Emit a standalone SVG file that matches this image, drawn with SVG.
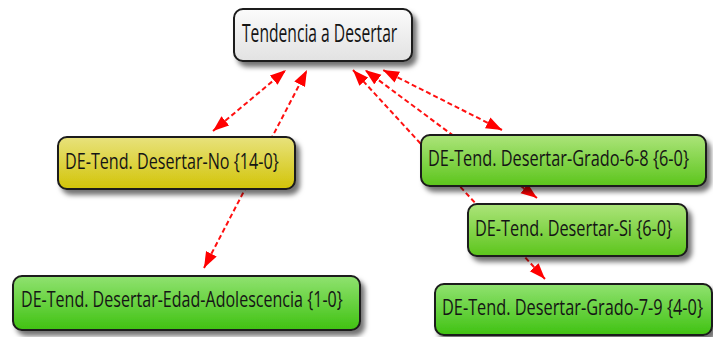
<svg xmlns="http://www.w3.org/2000/svg" width="713" height="337" viewBox="0 0 713 337">
<defs>
<style>
.edge{fill:none;stroke:#ff1010;stroke-width:2;stroke-dasharray:5,3;marker-start:url(#ah);marker-end:url(#ah)}
.box{stroke:#1a1a1a;stroke-width:2;filter:url(#sh)}
.t{font-family:"Open Sans","Liberation Sans",sans-serif;font-size:22px;fill:#151515}
.tt{font-size:25px}
</style>
<marker id="ah" markerUnits="userSpaceOnUse" markerWidth="17" markerHeight="13" refX="16" refY="6" orient="auto-start-reverse" viewBox="0 0 17 13">
<path d="M0,0 L16,6 L0,12 z" fill="#ff0000"/>
</marker>
<filter id="sh" x="-10%" y="-20%" width="130%" height="160%">
<feDropShadow dx="4" dy="5" stdDeviation="2.5" flood-color="#000" flood-opacity="0.55"/>
</filter>
<linearGradient id="gGray" x1="0" y1="0" x2="0" y2="1">
<stop offset="0" stop-color="#fbfbfb"/>
<stop offset="1" stop-color="#e2e2e2"/>
</linearGradient>
<linearGradient id="gYel" x1="0" y1="0" x2="0" y2="1">
<stop offset="0" stop-color="#e8e27c"/>
<stop offset="1" stop-color="#d2c408"/>
</linearGradient>
<linearGradient id="gGrn" x1="0" y1="0" x2="0" y2="1">
<stop offset="0" stop-color="#ace47a"/>
<stop offset="1" stop-color="#5cc51c"/>
</linearGradient>
<linearGradient id="gGrn2" x1="0" y1="0" x2="0" y2="1">
<stop offset="0" stop-color="#90e270"/>
<stop offset="1" stop-color="#40c212"/>
</linearGradient>
</defs>
<rect width="713" height="337" fill="#ffffff"/>
<g id="connectors">
<line class="edge" x1="213" y1="131" x2="286" y2="70"/>
<line class="edge" x1="204" y1="268" x2="307" y2="70"/>
<line class="edge" x1="545" y1="279" x2="353" y2="70"/>
<line class="edge" x1="537" y1="198" x2="365" y2="70"/>
<line class="edge" x1="502" y1="130" x2="383" y2="70"/>
</g>
<g id="node-tendencia">
<rect class="box" x="234" y="9" width="178" height="52" rx="9" fill="url(#gGray)"/>
<text class="t tt" transform="translate(242,42) scale(0.75,1)" textLength="207" lengthAdjust="spacingAndGlyphs">Tendencia a Desertar</text>
</g>
<g id="node-no">
<rect class="box" x="58" y="137" width="237" height="52" rx="9" fill="url(#gYel)"/>
<text class="t" transform="translate(65,169) scale(0.75,1)" textLength="285" lengthAdjust="spacingAndGlyphs">DE-Tend. Desertar-No {14-0}</text>
</g>
<g id="node-grado68">
<rect class="box" x="421" y="135" width="285" height="51" rx="9" fill="url(#gGrn)"/>
<text class="t" transform="translate(428,166) scale(0.75,1)" textLength="348" lengthAdjust="spacingAndGlyphs">DE-Tend. Desertar-Grado-6-8 {6-0}</text>
</g>
<g id="node-si">
<rect class="box" x="468" y="204" width="219" height="52" rx="9" fill="url(#gGrn)"/>
<text class="t" transform="translate(475,236) scale(0.75,1)" textLength="263" lengthAdjust="spacingAndGlyphs">DE-Tend. Desertar-Si {6-0}</text>
</g>
<g id="node-edad">
<rect class="box" x="13" y="276" width="347" height="54" rx="9" fill="url(#gGrn2)"/>
<text class="t" transform="translate(21,307) scale(0.75,1)" textLength="429" lengthAdjust="spacingAndGlyphs">DE-Tend. Desertar-Edad-Adolescencia {1-0}</text>
</g>
<g id="node-grado79">
<rect class="box" x="435" y="284" width="277" height="51" rx="9" fill="url(#gGrn2)"/>
<text class="t" transform="translate(442,315) scale(0.75,1)" textLength="348" lengthAdjust="spacingAndGlyphs">DE-Tend. Desertar-Grado-7-9 {4-0}</text>
</g>
</svg>
